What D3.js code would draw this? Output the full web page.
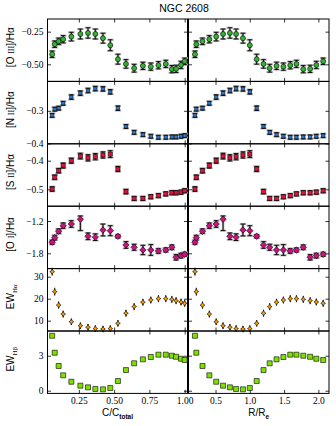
<!DOCTYPE html>
<html>
<head>
<meta charset="utf-8">
<script src="https://cdn.jsdelivr.net/npm/d3@7"></script>
<style>
  body { margin: 0; background: #fff; }
  svg { display: block; }
  .tick text { font-family: "Liberation Serif", "DejaVu Serif", serif; font-size: 9.5px; fill: #000; }
  .tick line { stroke: #000; stroke-width: 0.8; }
  .title, .axis-title { font-family: "Liberation Sans", Arial, sans-serif; fill: #000; }
</style>
</head>
<body>
<svg id="chart" width="336" height="426"></svg>
<script>
// x positions of the bins, in both units
const cFrac = [0.061, 0.079, 0.107, 0.139, 0.197, 0.261, 0.315, 0.367, 0.421, 0.473, 0.527,
               0.584, 0.642, 0.704, 0.760, 0.814, 0.866, 0.909, 0.939, 0.974, 1.0];
const rRe = [0.20, 0.22, 0.31, 0.41, 0.51, 0.61, 0.71, 0.80, 0.90, 1.00, 1.10,
             1.20, 1.29, 1.39, 1.49, 1.59, 1.68, 1.78, 1.88, 1.97, 2.07];

// line ratios (log) and equivalent widths
const oiii = [-0.423, -0.346, -0.324, -0.308, -0.288, -0.268, -0.260, -0.268, -0.300, -0.354, -0.461,
              -0.497, -0.530, -0.512, -0.518, -0.507, -0.497, -0.537, -0.535, -0.505, -0.477];
const oiiiErr = [0.025, 0.025, 0.025, 0.028, 0.033, 0.038, 0.040, 0.038, 0.038, 0.042, 0.038,
                 0.033, 0.030, 0.028, 0.028, 0.028, 0.028, 0.028, 0.028, 0.028, 0.025];

const nii = [-0.314, -0.295, -0.292, -0.277, -0.258, -0.246, -0.238, -0.232, -0.233, -0.242, -0.292,
             -0.348, -0.366, -0.373, -0.378, -0.381, -0.381, -0.380, -0.380, -0.378, -0.376];
const niiErr = [0.006, 0.006, 0.006, 0.006, 0.007, 0.007, 0.007, 0.007, 0.007, 0.007, 0.007,
                0.006, 0.006, 0.006, 0.006, 0.006, 0.006, 0.006, 0.006, 0.006, 0.006];

const sii = [-0.499, -0.458, -0.435, -0.417, -0.400, -0.384, -0.390, -0.386, -0.380, -0.377, -0.429,
             -0.508, -0.532, -0.532, -0.526, -0.522, -0.516, -0.512, -0.512, -0.510, -0.505];
const siiErr = [0.008, 0.008, 0.008, 0.009, 0.009, 0.010, 0.011, 0.011, 0.011, 0.012, 0.009,
                0.008, 0.007, 0.007, 0.007, 0.007, 0.007, 0.007, 0.007, 0.007, 0.007];

const oi = [-1.595, -1.510, -1.390, -1.287, -1.256, -1.168, -1.484, -1.500, -1.367, -1.380, -1.484,
            -1.645, -1.688, -1.738, -1.738, -1.757, -1.738, -1.688, -1.874, -1.843, -1.818];
const oiErrLo = [0.037, 0.043, 0.043, 0.050, 0.062, 0.210, 0.062, 0.062, 0.110, 0.093, 0.031,
                 0.062, 0.056, 0.087, 0.100, 0.043, 0.037, 0.043, 0.050, 0.043, 0.037];
const oiErrHi = [0.037, 0.043, 0.043, 0.050, 0.062, 0.062, 0.062, 0.062, 0.110, 0.093, 0.031,
                 0.062, 0.056, 0.087, 0.100, 0.043, 0.037, 0.043, 0.050, 0.043, 0.037];

const ewHa = [32.3, 23.2, 17.1, 13.0, 9.5, 7.7, 7.0, 6.4, 6.2, 6.4, 8.8,
              13.4, 16.4, 18.4, 19.4, 20.0, 20.0, 19.7, 19.1, 18.5, 17.9];
const ewHaErr = [1.8, 1.8, 1.7, 1.6, 1.5, 1.5, 1.5, 1.5, 1.5, 1.5, 1.5,
                 1.6, 1.6, 1.6, 1.6, 1.6, 1.6, 1.6, 1.6, 1.6, 1.6];

const ewHb = [4.71, 3.26, 2.12, 1.32, 0.77, 0.43, 0.29, 0.15, 0.12, 0.23, 0.83,
              1.77, 2.35, 2.69, 2.89, 3.09, 3.09, 3.00, 2.91, 2.74, 2.63];

const xTicksLeft = [0.25, 0.5, 0.75, 1.0];
const xTicksRight = [0.5, 1.0, 1.5, 2.0];

const rows = [
    { label: [['[O ', ''], ['III', 'sc'], [']/H\u03b1', '']], values: oiii, lo: oiiiErr, hi: oiiiErr,
      domain: [-0.631, -0.153], ticks: [-0.5, -0.25], fmt: d3.format('.2f'),
      marker: 'circle', size: 2.5, color: '#33b233', bars: 'full' },
    { label: [['[N ', ''], ['II', 'sc'], [']/H\u03b1', '']], values: nii, lo: niiErr, hi: niiErr,
      domain: [-0.401, -0.21], ticks: [-0.4, -0.3], fmt: d3.format('.1f'),
      marker: 'square', size: 1.7, color: '#2b7bd6', bars: 'full' },
    { label: [['[S ', ''], ['II', 'sc'], [']/H\u03b1', '']], values: sii, lo: siiErr, hi: siiErr,
      domain: [-0.559, -0.341], ticks: [-0.5, -0.4], fmt: d3.format('.1f'),
      marker: 'square', size: 2.1, color: '#dc143c', bars: 'full' },
    { label: [['[O ', ''], ['I', 'sc'], [']/H\u03b1', '']], values: oi, lo: oiErrLo, hi: oiErrHi,
      domain: [-2.084, -0.925], ticks: [-1.8, -1.2], fmt: d3.format('.1f'),
      marker: 'diamond', size: 3.2, color: '#c8127f', bars: 'full' },
    { label: [['EW', ''], ['H\u03b1', 'sub']], values: ewHa, lo: ewHaErr, hi: ewHaErr,
      domain: [5.3, 33.7], ticks: [10, 20, 30], fmt: d3.format('d'),
      marker: 'star', size: 3.0, color: '#ff9f00', bars: 'thin' },
    { label: [['EW', ''], ['H\u03b2', 'sub']], values: ewHb, lo: null, hi: null,
      domain: [-0.23, 5.12], ticks: [0, 3], fmt: d3.format('d'),
      marker: 'square', size: 2.5, color: '#7fe000', bars: 'none' }
];

const svg = d3.select('#chart');
const plotTop = 19, plotBottom = 393.4;
const rowH = (plotBottom - plotTop) / rows.length;
const tickLen = -3.5;

const xLeft = d3.scaleLinear().domain([0.028, 1.02]).range([47.5, 187.5]);
const xRight = d3.scaleLinear().domain([0.106, 2.155]).range([188.5, 329]);

const panels = [
    { x: xLeft, xs: cFrac, ticks: xTicksLeft, fmt: d3.format('.2f'), yLabels: true },
    { x: xRight, xs: rRe, ticks: xTicksRight, fmt: d3.format('.1f'), yLabels: false }
];

function markerPath(type, s) {
    if (type === 'circle') {
        return `M${s},0A${s},${s} 0 1,1 ${-s},0A${s},${s} 0 1,1 ${s},0Z`;
    }
    if (type === 'square') {
        return `M${-s},${-s}H${s}V${s}H${-s}Z`;
    }
    if (type === 'diamond') {
        return `M0,${-s}L${s},0L0,${s}L${-s},0Z`;
    }
    // four-pointed star
    const w = s * 0.8, c = s * 0.3;
    return `M0,${-s}L${c},${-c}L${w},0L${c},${c}L0,${s}L${-c},${c}L${-w},0L${-c},${-c}Z`;
}

rows.forEach((row, i) => {
    const y0 = plotTop + i * rowH;
    const y = d3.scaleLinear().domain(row.domain).range([y0 + rowH, y0]);
    const isLast = i === rows.length - 1;

    panels.forEach(p => {
        const g = svg.append('g');
        const [xa, xb] = p.x.range();

        g.append('g').attr('transform', `translate(0,${y0 + rowH})`)
            .call(d3.axisBottom(p.x).tickValues(p.ticks).tickSize(tickLen).tickPadding(4)
                .tickFormat(isLast ? p.fmt : ''));
        g.append('g').attr('transform', `translate(0,${y0})`)
            .call(d3.axisTop(p.x).tickValues(p.ticks).tickSize(tickLen).tickFormat(''));
        g.append('g').attr('transform', `translate(${xa},0)`)
            .call(d3.axisLeft(y).tickValues(row.ticks).tickSize(tickLen).tickPadding(4)
                .tickFormat(p.yLabels ? row.fmt : ''));
        g.append('g').attr('transform', `translate(${xb},0)`)
            .call(d3.axisRight(y).tickValues(row.ticks).tickSize(tickLen).tickFormat(''));
        g.selectAll('.domain').remove();

        g.append('rect')
            .attr('x', xa).attr('y', y0)
            .attr('width', xb - xa).attr('height', rowH)
            .attr('fill', 'none').attr('stroke', '#000').attr('stroke-width', 1);

        const pts = row.values.map((v, k) => ({
            x: p.x(p.xs[k]),
            y: y(v),
            lo: row.lo ? y(v - row.lo[k]) : null,
            hi: row.hi ? y(v + row.hi[k]) : null
        }));

        if (row.bars === 'full') {
            const gray = g.append('g').attr('stroke', '#a8a8a8');
            gray.selectAll('line.v').data(pts).join('line').attr('class', 'v')
                .attr('x1', d => d.x).attr('x2', d => d.x)
                .attr('y1', d => d.lo).attr('y2', d => d.hi).attr('stroke-width', 2.4);
            ['lo', 'hi'].forEach(k => {
                gray.selectAll('line.c' + k).data(pts).join('line').attr('class', 'c' + k)
                    .attr('x1', d => d.x - 3.2).attr('x2', d => d.x + 3.2)
                    .attr('y1', d => d[k]).attr('y2', d => d[k]).attr('stroke-width', 2);
            });
        }
        if (row.bars !== 'none') {
            const black = g.append('g').attr('stroke', '#000').attr('stroke-width', 0.9);
            black.selectAll('line.v').data(pts).join('line').attr('class', 'v')
                .attr('x1', d => d.x).attr('x2', d => d.x)
                .attr('y1', d => d.lo).attr('y2', d => d.hi);
            const cap = row.bars === 'full' ? 2.2 : 0;
            if (cap > 0) {
                ['lo', 'hi'].forEach(k => {
                    black.selectAll('line.c' + k).data(pts).join('line').attr('class', 'c' + k)
                        .attr('x1', d => d.x - cap).attr('x2', d => d.x + cap)
                        .attr('y1', d => d[k]).attr('y2', d => d[k]);
                });
            }
        }

        g.selectAll('path.mark').data(pts).join('path').attr('class', 'mark')
            .attr('transform', d => `translate(${d.x},${d.y})`)
            .attr('d', markerPath(row.marker, row.size))
            .attr('fill', row.color)
            .attr('stroke', '#000').attr('stroke-width', 0.6);
    });

    // rotated y title
    const t = svg.append('text').attr('class', 'axis-title')
        .attr('transform', `translate(14,${y0 + rowH / 2 - 3}) rotate(-90)`)
        .attr('text-anchor', 'middle').attr('font-size', 10);
    row.label.forEach(([s, kind]) => {
        const span = t.append('tspan').text(s);
        if (kind === 'sc') {
            span.attr('font-family', '"Liberation Serif", serif').attr('font-size', 8);
        } else if (kind === 'sub') {
            span.attr('font-family', '"Liberation Serif", serif').attr('font-size', 7).attr('dy', 2.5);
        }
    });
});

svg.append('text').attr('class', 'title')
    .attr('x', 184).attr('y', 12).attr('text-anchor', 'middle').attr('font-size', 10.5)
    .text('NGC 2608');

const xTitles = [
    { x: (xLeft.range()[0] + xLeft.range()[1]) / 2, main: 'C/C', sub: 'total' },
    { x: (xRight.range()[0] + xRight.range()[1]) / 2, main: 'R/R', sub: 'e' }
];
xTitles.forEach(d => {
    const t = svg.append('text').attr('class', 'axis-title')
        .attr('x', d.x).attr('y', 416).attr('text-anchor', 'middle').attr('font-size', 10);
    t.append('tspan').text(d.main);
    t.append('tspan').text(d.sub).attr('font-size', 6.5).attr('font-weight', 'bold').attr('dy', 2.5);
});
</script>
</body>
</html>
